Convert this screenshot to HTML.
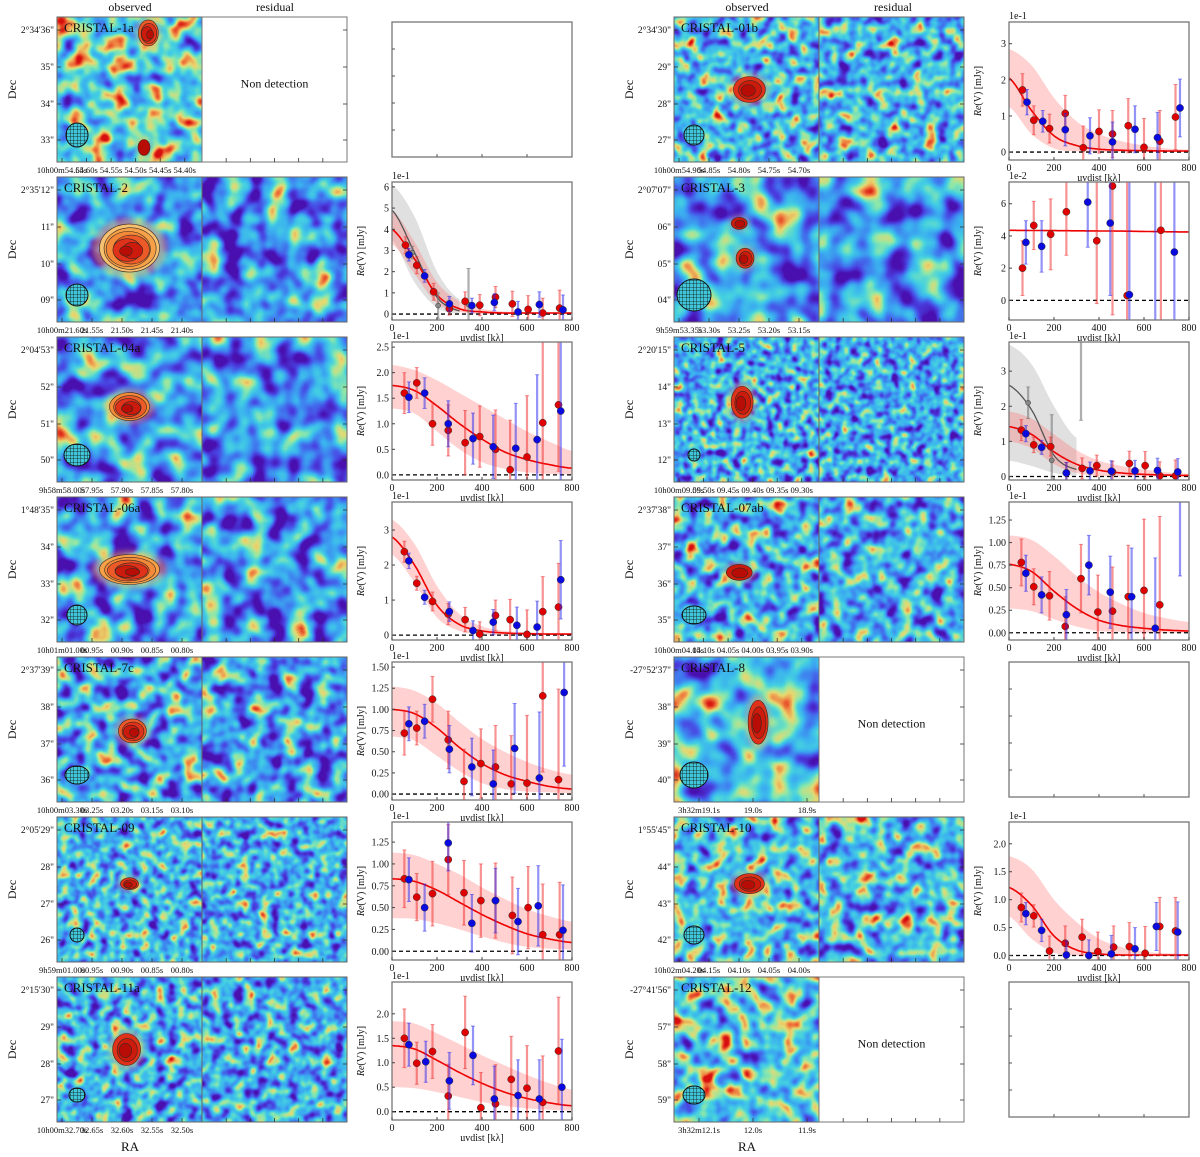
<!DOCTYPE html>
<html><head><meta charset="utf-8"><title>CRISTAL uv-fits</title>
<style>
html,body{margin:0;padding:0;background:#fff;}
#fig{position:relative;width:1200px;height:1157px;overflow:hidden;font-family:"Liberation Serif",serif;}
svg text{font-family:"Liberation Serif",serif;}
</style></head>
<body>
<div id="fig">
<svg id="mainsvg" width="1200" height="1157" viewBox="0 0 1200 1157" xmlns="http://www.w3.org/2000/svg">
<defs id="mydefs">
<pattern id="hatch" width="3.5" height="3.5" patternUnits="userSpaceOnUse">
<rect width="3.5" height="3.5" fill="#3fc6d8"/>
<path d="M0 0H3.5M0 0V3.5" stroke="#111" stroke-width="0.8"/>
</pattern>
<filter id="blur2" x="-50%" y="-50%" width="200%" height="200%"><feGaussianBlur stdDeviation="3"/></filter>
</defs>
</svg>
</div>
<script>
// ---------------- chart data (values in units shown on axes) ----------------
var c01b_redU=[60,110,180,250,330,400,460,530,600,670,740];
var c01b_redV=[1.72,0.88,0.65,1.07,0.12,0.57,0.5,0.73,0.13,0.3,0.97];
var c01b_redE=[0.45,0.4,0.4,0.5,0.6,0.6,0.65,0.75,0.8,0.85,0.9];
var c01b_blueU=[80,150,250,360,460,560,660,760];
var c01b_blueV=[1.38,0.85,0.62,0.45,0.28,0.63,0.4,1.22];
var c01b_blueE=[0.35,0.3,0.45,0.5,0.55,0.65,0.7,0.8];
var c01b_model=[2.05,1.15,0.45,0.18,0.08,0.05,0.04,0.03,0.03];
var c01b_hi=[2.85,2.4,1.5,0.85,0.5,0.3,0.18,0.1,0.07];
var c01b_lo=[1.25,0.5,0.1,0.02,0,0,0,0,0];
var c01b_ticks=[0,1,2,3];
var c01b_tickLabels=["0","1","2","3"];
var c2_redU=[60,110,185,255,325,390,460,535,605,670,745];
var c2_redV=[3.25,2.3,1.05,0.25,0.6,0.42,0.8,0.48,0.22,0.05,0.28];
var c2_redE=[0.4,0.4,0.4,0.3,0.45,0.5,0.5,0.6,0.65,0.7,0.85];
var c2_blueU=[75,145,255,355,455,560,655,760];
var c2_blueV=[2.8,1.8,0.48,0.4,0.55,0.1,0.45,0.2];
var c2_blueE=[0.3,0.3,0.35,0.35,0.4,0.5,0.6,0.7];
var c2_greyU=[90,205,340];
var c2_greyV=[2.9,0.4,0.45];
var c2_greyE=[0.3,0.6,1.7];
var c2_model=[4.0,2.6,0.9,0.25,0.1,0.05,0.05,0.05,0.05];
var c2_hi=[4.9,3.4,1.5,0.6,0.25,0.12,0.1,0.08,0.08];
var c2_lo=[3.3,1.9,0.5,0.1,0,0,0,0,0];
var c2_greyModel=[4.9,2.9,0.8,0.15];
var c2_greyHi=[6.1,4.6,2.0,0.7];
var c2_greyLo=[3.5,1.5,0.3,0.0];
var c2_ticks=[0,1,2,3,4,5,6];
var c2_tickLabels=["0","1","2","3","4","5","6"];
var c3_redU=[60,110,185,255,390,460,525,675];
var c3_redV=[2.0,4.65,4.1,5.5,3.7,7.1,0.3,4.35];
var c3_redE=[1.7,1.5,2.2,2.7,3.9,8,8,8];
var c3_blueU=[75,145,350,450,535,650,735];
var c3_blueV=[3.6,3.35,6.1,4.8,0.35,9,3];
var c3_blueE=[1.35,1.6,2.8,4.5,8,12,10];
var c3_model=[4.35,4.34,4.33,4.32,4.31,4.3,4.28,4.26,4.25];
var c3_ticks=[0,2,4,6];
var c3_tickLabels=["0","2","4","6"];
var c04a_redU=[55,110,180,250,325,390,460,525,600,670,740];
var c04a_redV=[1.6,1.8,1.0,0.87,0.63,0.75,0.5,0.1,0.35,1.02,1.37];
var c04a_redE=[0.4,0.3,0.42,0.5,0.63,0.6,0.77,0.97,1.2,1.6,1.3];
var c04a_blueU=[75,145,250,360,450,550,645,750];
var c04a_blueV=[1.52,1.6,1.0,0.71,0.55,0.52,0.69,1.25];
var c04a_blueE=[0.3,0.3,0.45,0.5,0.62,0.88,1.27,1.4];
var c04a_model=[1.75,1.65,1.35,1.0,0.7,0.45,0.3,0.2,0.13];
var c04a_hi=[2.15,2.05,1.85,1.6,1.35,1.1,0.85,0.65,0.47];
var c04a_lo=[1.3,1.2,0.85,0.5,0.25,0.12,0.05,0.02,0.01];
var c04a_ticks=[0,0.5,1,1.5,2,2.5];
var c04a_tickLabels=["0.0","0.5","1.0","1.5","2.0","2.5"];
var c5_redU=[55,110,185,255,325,390,460,535,605,670,740];
var c5_redV=[1.32,0.9,0.85,0.1,0.23,0.31,0.13,0.37,0.31,0.02,0.02];
var c5_redE=[0.3,0.22,0.27,0.3,0.3,0.3,0.3,0.35,0.4,0.4,0.45];
var c5_blueU=[75,145,255,360,455,560,660,750];
var c5_blueV=[1.22,0.83,0.1,0.16,0.15,0.16,0.17,0.13];
var c5_blueE=[0.23,0.2,0.3,0.25,0.3,0.3,0.35,0.38];
var c5_greyU=[85,190,320];
var c5_greyV=[2.1,0.46,5.5];
var c5_greyE=[0.45,1.3,3.9];
var c5_model=[1.42,1.2,0.7,0.35,0.18,0.1,0.06,0.04,0.03];
var c5_hi=[1.85,1.65,1.2,0.75,0.45,0.3,0.2,0.12,0.08];
var c5_lo=[1.0,0.8,0.35,0.1,0.02,0,0,0,0];
var c5_greyModel=[2.6,1.9,0.6,0.2];
var c5_greyHi=[3.75,3.2,2.0,1.1];
var c5_greyLo=[0.45,0.3,0.1,0.02];
var c5_ticks=[0,1,2,3];
var c5_tickLabels=["0","1","2","3"];
var c06a_redU=[55,110,180,250,325,390,460,525,600,670,740];
var c06a_redV=[2.38,1.48,0.96,0.6,0.44,0.03,0.56,0.44,0.02,0.67,0.8];
var c06a_redE=[0.3,0.2,0.27,0.3,0.35,0.35,0.44,0.58,0.7,1.0,1.25];
var c06a_blueU=[75,145,255,360,450,555,645,750];
var c06a_blueV=[2.12,1.08,0.67,0.13,0.37,0.28,0.23,1.58];
var c06a_blueE=[0.22,0.2,0.28,0.28,0.36,0.52,0.74,1.12];
var c06a_model=[2.8,2.0,0.85,0.3,0.12,0.06,0.04,0.03,0.03];
var c06a_hi=[3.3,2.6,1.4,0.6,0.25,0.12,0.08,0.06,0.05];
var c06a_lo=[2.3,1.5,0.5,0.12,0.03,0,0,0,0];
var c06a_ticks=[0,1,2,3];
var c06a_tickLabels=["0","1","2","3"];
var c07ab_redU=[55,110,180,250,320,395,460,530,600,670];
var c07ab_redV=[0.78,0.51,0.41,0.07,0.6,0.23,0.24,0.4,0.47,0.31];
var c07ab_redE=[0.26,0.2,0.27,0.33,0.38,0.41,0.49,0.57,0.79,0.98];
var c07ab_blueU=[75,145,255,355,450,545,650,760];
var c07ab_blueV=[0.66,0.42,0.2,0.75,0.45,0.4,0.05,1.5];
var c07ab_blueE=[0.2,0.2,0.28,0.33,0.4,0.54,0.78,0.87];
var c07ab_model=[0.76,0.68,0.46,0.27,0.14,0.08,0.05,0.03,0.02];
var c07ab_hi=[1.08,1.03,0.85,0.63,0.45,0.32,0.22,0.16,0.12];
var c07ab_lo=[0.27,0.24,0.15,0.07,0.02,0.01,0,0,0];
var c07ab_ticks=[0,0.25,0.5,0.75,1,1.25];
var c07ab_tickLabels=["0.00","0.25","0.50","0.75","1.00","1.25"];
var c7c_redU=[55,110,180,250,320,395,460,530,600,670,740];
var c7c_redV=[0.72,0.78,1.12,0.64,0.15,0.36,0.32,0.12,0.13,1.16,0.17];
var c7c_redE=[0.26,0.2,0.27,0.34,0.38,0.41,0.49,0.57,0.8,0.9,1.07];
var c7c_blueU=[75,145,255,355,450,545,655,765];
var c7c_blueV=[0.83,0.86,0.53,0.32,0.12,0.54,0.19,1.2];
var c7c_blueE=[0.2,0.2,0.28,0.34,0.4,0.53,0.78,0.87];
var c7c_model=[1.0,0.95,0.78,0.55,0.36,0.23,0.15,0.09,0.06];
var c7c_hi=[1.27,1.22,1.07,0.85,0.65,0.5,0.38,0.29,0.23];
var c7c_lo=[0.68,0.63,0.45,0.27,0.13,0.06,0.03,0.02,0.01];
var c7c_ticks=[0,0.25,0.5,0.75,1,1.25,1.5];
var c7c_tickLabels=["0.00","0.25","0.50","0.75","1.00","1.25","1.50"];
var c09_redU=[55,110,180,250,320,395,460,535,605,670,745];
var c09_redV=[0.83,0.62,0.66,1.05,0.67,0.58,0.58,0.41,0.5,0.19,0.19];
var c09_redE=[0.33,0.27,0.37,0.4,0.37,0.42,0.43,0.44,0.47,0.58,0.6];
var c09_blueU=[75,145,250,355,460,560,650,760];
var c09_blueV=[0.82,0.5,1.24,0.32,0.58,0.34,0.52,0.24];
var c09_blueE=[0.25,0.27,0.32,0.33,0.37,0.38,0.46,0.52];
var c09_model=[0.83,0.8,0.7,0.56,0.42,0.3,0.2,0.14,0.1];
var c09_hi=[1.13,1.1,1.0,0.88,0.73,0.6,0.48,0.4,0.34];
var c09_lo=[0.38,0.37,0.32,0.25,0.17,0.1,0.05,0.03,0.02];
var c09_ticks=[0,0.25,0.5,0.75,1,1.25];
var c09_tickLabels=["0.00","0.25","0.50","0.75","1.00","1.25"];
var c10_redU=[55,110,180,250,325,395,465,535,605,670,740];
var c10_redV=[0.86,0.71,0.08,0.22,0.33,0.07,0.15,0.16,0.04,0.52,0.44];
var c10_redE=[0.26,0.2,0.27,0.31,0.32,0.35,0.38,0.43,0.48,0.52,0.6];
var c10_blueU=[75,145,255,355,455,560,655,750];
var c10_blueV=[0.75,0.45,0.01,0.0,0.03,0.12,0.52,0.42];
var c10_blueE=[0.2,0.2,0.25,0.28,0.33,0.38,0.43,0.54];
var c10_model=[1.22,0.9,0.35,0.1,0.03,0.01,0.01,0.01,0.01];
var c10_hi=[1.78,1.55,1.0,0.6,0.3,0.15,0.07,0.04,0.03];
var c10_lo=[0.7,0.3,0.05,0,0,0,0,0,0];
var c10_ticks=[0,0.5,1,1.5,2];
var c10_tickLabels=["0.0","0.5","1.0","1.5","2.0"];
var c11a_redU=[55,110,180,250,325,395,460,530,600,670,740];
var c11a_redV=[1.5,0.99,1.23,0.32,1.62,0.08,0.16,0.66,0.48,0.19,1.24];
var c11a_redE=[0.6,0.43,0.55,0.65,0.74,0.72,0.8,0.88,0.87,0.95,1.1];
var c11a_blueU=[75,150,255,360,455,560,655,755];
var c11a_blueV=[1.37,1.02,0.63,1.15,0.26,0.33,0.26,0.5];
var c11a_blueE=[0.44,0.42,0.58,0.6,0.67,0.73,0.8,0.98];
var c11a_model=[1.35,1.28,1.05,0.8,0.58,0.4,0.27,0.18,0.12];
var c11a_hi=[1.85,1.8,1.6,1.38,1.15,0.95,0.75,0.58,0.45];
var c11a_lo=[0.5,0.48,0.4,0.3,0.2,0.12,0.07,0.04,0.02];
var c11a_ticks=[0,0.5,1,1.5,2];
var c11a_tickLabels=["0.0","0.5","1.0","1.5","2.0"];
var xTicks=[0,200,400,600,800];
var xTickLabels=["0","200","400","600","800"];

// ---------------- layout ----------------
var svgRoot=document.getElementById('mainsvg');
var SVGNS='http://www.w3.org/2000/svg';
var defsEl=document.getElementById('mydefs');
function mk(tag,attrs,parent){var e=document.createElementNS(SVGNS,tag);for(var k in attrs){e.setAttribute(k,String(attrs[k]));}(parent||svgRoot).appendChild(e);return e;}
function txt(str,x,y,size,parent,anchor,extra){var a={x:x,y:y,'font-size':size,'text-anchor':anchor||'start',fill:'#111'};if(extra){for(var k in extra)a[k]=extra[k];}var te=mk('text',a,parent);te.textContent=str;return te;}
var rowTop=[17,177,337,497,657,817,977];
var PH=145;

var ttl;
ttl=txt('observed',130,11,12,svgRoot,'middle');


ttl=txt('residual',275,11,12,svgRoot,'middle');


ttl=txt('observed',747,11,12,svgRoot,'middle');


ttl=txt('residual',893,11,12,svgRoot,'middle');


ttl=txt('RA',130,1151,13,svgRoot,'middle');


ttl=txt('RA',747,1151,13,svgRoot,'middle');



var tabR="0.29 0.29 0.25 0.23 0.27 0.56 0.91 0.94 0.85";
var tabG="0.06 0.25 0.49 0.69 0.82 0.91 0.85 0.5 0.06";
var tabB="0.69 0.88 0.94 0.94 0.88 0.66 0.44 0.25 0.06";
var fid=0;
function noiseFilter(x,y,w,h,freq,seed,shift,contrast){
  var id='nf'+(fid++);
  var f=mk('filter',{id:id,filterUnits:'userSpaceOnUse',x:x,y:y,width:w,height:h,'color-interpolation-filters':'sRGB'},defsEl);
  mk('feTurbulence',{type:'fractalNoise',baseFrequency:freq,numOctaves:2,seed:seed,result:'n'},f);
  mk('feGaussianBlur',{stdDeviation:1.2},f);
  var a=contrast, b=(0.42+shift)-0.5*contrast;
  mk('feColorMatrix',{type:'matrix',values:a+' 0 0 0 '+b+' '+a+' 0 0 0 '+b+' '+a+' 0 0 0 '+b+' 0 0 0 0 1'},f);
  var ct=mk('feComponentTransfer',{},f);
  mk('feFuncR',{type:'table',tableValues:tabR},ct);
  mk('feFuncG',{type:'table',tableValues:tabG},ct);
  mk('feFuncB',{type:'table',tableValues:tabB},ct);
  return id;
}
var srcFill=['#f5c070','#f6a048','#f28a3a','#ec5a28','#e0321a','#cc1a0c','#b80c06'];

var imgPanels=[
 {col:0,row:0,label:'CRISTAL-1a',dec:["2°34'36\"","35\"","34\"","33\""],ra:["10h00m54.65s","54.60s","54.55s","54.50s","54.45s","54.40s"],seed:3,freq:0.055,shift:0.12,src:[[0.63,0.11,10,13,4]],extra:[[0.6,0.9,6,8,1]],beam:[11,12],nondet:true},
 {col:0,row:1,label:'CRISTAL-2',dec:["2°35'12\"","11\"","10\"","09\""],ra:["10h00m21.60s","21.55s","21.50s","21.45s","21.40s"],seed:7,freq:0.045,shift:-0.08,src:[[0.5,0.49,30,24,7]],beam:[11,11]},
 {col:0,row:2,label:'CRISTAL-04a',dec:["2°04'53\"","52\"","51\"","50\""],ra:["9h58m58.00s","57.95s","57.90s","57.85s","57.80s"],seed:11,freq:0.04,shift:-0.07,src:[[0.5,0.48,20,14,5]],beam:[13,11]},
 {col:0,row:3,label:'CRISTAL-06a',dec:["1°48'35\"","34\"","33\"","32\""],ra:["10h01m01.00s","00.95s","00.90s","00.85s","00.80s"],seed:17,freq:0.045,shift:-0.06,src:[[0.5,0.5,30,15,6]],beam:[10,10]},
 {col:0,row:4,label:'CRISTAL-7c',dec:["2°37'39\"","38\"","37\"","36\""],ra:["10h00m03.30s","03.25s","03.20s","03.15s","03.10s"],seed:23,freq:0.06,shift:-0.05,src:[[0.52,0.51,14,12,4]],beam:[12,9]},
 {col:0,row:5,label:'CRISTAL-09',dec:["2°05'29\"","28\"","27\"","26\""],ra:["9h59m01.00s","00.95s","00.90s","00.85s","00.80s"],seed:29,freq:0.1,shift:0.0,src:[[0.5,0.46,9,6,3]],beam:[7,7]},
 {col:0,row:6,label:'CRISTAL-11a',dec:["2°15'30\"","29\"","28\"","27\""],ra:["10h00m32.70s","32.65s","32.60s","32.55s","32.50s"],seed:31,freq:0.09,shift:-0.01,src:[[0.48,0.5,14,16,3]],beam:[8,7]},
 {col:1,row:0,label:'CRISTAL-01b',dec:["2°34'30\"","29\"","28\"","27\""],ra:["10h00m54.90s","54.85s","54.80s","54.75s","54.70s"],seed:37,freq:0.08,shift:0.02,src:[[0.52,0.5,16,13,3]],beam:[10,10]},
 {col:1,row:1,label:'CRISTAL-3',dec:["2°07'07\"","06\"","05\"","04\""],ra:["9h59m53.35s","53.30s","53.25s","53.20s","53.15s"],seed:41,freq:0.035,shift:-0.05,src:[[0.45,0.32,8,6,2],[0.49,0.56,9,10,3]],beam:[17,16]},
 {col:1,row:2,label:'CRISTAL-5',dec:["2°20'15\"","14\"","13\"","12\""],ra:["10h00m09.55s","09.50s","09.45s","09.40s","09.35s","09.30s"],seed:43,freq:0.12,shift:-0.03,src:[[0.47,0.45,11,16,3]],beam:[6,6]},
 {col:1,row:3,label:'CRISTAL-07ab',dec:["2°37'38\"","37\"","36\"","35\""],ra:["10h00m04.15s","04.10s","04.05s","04.00s","03.95s","03.90s"],seed:47,freq:0.07,shift:-0.01,src:[[0.45,0.52,13,8,2]],beam:[12,9]},
 {col:1,row:4,label:'CRISTAL-8',dec:["-27°52'37\"","38\"","39\"","40\""],ra:["3h32m19.1s","19.0s","18.9s"],seed:53,freq:0.035,shift:0.06,src:[[0.58,0.45,10,22,3]],beam:[14,13],nondet:true},
 {col:1,row:5,label:'CRISTAL-10',dec:["1°55'45\"","44\"","43\"","42\""],ra:["10h02m04.20s","04.15s","04.10s","04.05s","04.00s"],seed:59,freq:0.07,shift:0.04,src:[[0.52,0.46,15,10,3]],beam:[10,9]},
 {col:1,row:6,label:'CRISTAL-12',dec:["-27°41'56\"","57\"","58\"","59\""],ra:["3h32m12.1s","12.0s","11.9s"],seed:61,freq:0.06,shift:0.08,src:[],beam:[11,9],nondet:true}
];
var obsX=[57,674];

function imagePanel(P){
  var x=obsX[P.col], y=rowTop[P.row];
  var g=mk('g',{});
  
  
  var cid='cp'+(fid++);
  var cp=mk('clipPath',{id:cid},defsEl); mk('rect',{x:x,y:y,width:PH,height:PH},cp);
  var inner=mk('g',{'clip-path':'url(#'+cid+')'},g);
  mk('rect',{x:x,y:y,width:PH,height:PH,fill:'#45c4e4'},inner);
  var nf=noiseFilter(x,y,PH,PH,P.freq,P.seed,P.shift,1.7);
  mk('rect',{x:x,y:y,width:PH,height:PH,filter:'url(#'+nf+')'},inner);
  var all=(P.src||[]).concat(P.extra||[]);
  all.forEach(function(s){
    var cx=x+s[0]*PH, cy=y+s[1]*PH;
    mk('ellipse',{cx:cx,cy:cy,rx:s[2]*1.25,ry:s[3]*1.25,fill:'#f4b060',opacity:0.5,filter:'url(#blur2)'},inner);
    for(var i=0;i<s[4];i++){
      var k=1-i/(s[4]+0.6);
      mk('ellipse',{cx:cx+(i%2?1:-1)*i*0.6,cy:cy+i*0.5,rx:s[2]*k,ry:s[3]*k,fill:srcFill[Math.min(i+(7-s[4]),6)],stroke:'#3a2a20','stroke-width':0.6},inner);
    }
  });
  var bm=mk('ellipse',{cx:x+20,cy:y+PH-27,rx:P.beam[0],ry:P.beam[1],fill:'url(#hatch)',stroke:'#111','stroke-width':1},inner);
  
  
  mk('rect',{x:x,y:y,width:PH,height:PH,fill:'none',stroke:'#666','stroke-width':1},g);
  var lb=txt(P.label,x+7,y+15,13,g);
  
  
  var dOff=[13,50,87,123];
  P.dec.forEach(function(d,i){var tt=txt(d,x-3,y+dOff[i]+3,9.5,g,'end');
    
    
    mk('line',{x1:x,y1:y+dOff[i],x2:x+4,y2:y+dOff[i],stroke:'#333','stroke-width':0.8},g);});
  var step=(PH-10)/(P.ra.length-0.5);
  P.ra.forEach(function(r,i){var rxp=x+5+i*step+(P.ra.length<=3?20:0);
    var tt=txt(r,rxp,y+PH+11,8.5,g,'middle');
    
    
    mk('line',{x1:rxp,y1:y+PH,x2:rxp,y2:y+PH-4,stroke:'#333','stroke-width':0.8},g);});
  var dl=txt('Dec',x-45,y+PH/2+4,12,g,'middle',{transform:'rotate(-90 '+(x-45)+' '+(y+PH/2)+')'});
  
  

  var rx0=x+PH;
  var rg=mk('g',{});
  
  
  if(P.nondet){
    mk('rect',{x:rx0,y:y,width:PH,height:PH,fill:'#fff',stroke:'#777','stroke-width':1},rg);
    var nd=txt('Non detection',rx0+PH/2,y+PH/2-2,12,rg,'middle');
    
    
  } else {
    var cid2='cp'+(fid++);
    var cp2=mk('clipPath',{id:cid2},defsEl); mk('rect',{x:rx0,y:y,width:PH,height:PH},cp2);
    mk('rect',{x:rx0,y:y,width:PH,height:PH,fill:'#45c4e4'},rg);
    var nf2=noiseFilter(rx0,y,PH,PH,P.freq,P.seed+100,P.shift-0.02,1.7);
    mk('rect',{x:rx0,y:y,width:PH,height:PH,filter:'url(#'+nf2+')','clip-path':'url(#'+cid2+')'},rg);
    mk('rect',{x:rx0,y:y,width:PH,height:PH,fill:'none',stroke:'#666','stroke-width':1},rg);
  }
  for(var i=1;i<6;i++){mk('line',{x1:rx0+i*PH/6,y1:y+PH,x2:rx0+i*PH/6,y2:y+PH-4,stroke:'#333','stroke-width':0.8},rg);}
  dOff.forEach(function(o){mk('line',{x1:rx0+PH,y1:y+o,x2:rx0+PH-4,y2:y+o,stroke:'#333','stroke-width':0.8},rg);});
}
imgPanels.forEach(function(P){try{imagePanel(P);}catch(e){console.log(e);}});

// ---------------- plots ----------------
function interp(arr,u){
  var p=u/100; var i=Math.floor(p); if(i>=arr.length-1){return arr[arr.length-1];}
  var f=p-i; var p0=arr[Math.max(i-1,0)],p1=arr[i],p2=arr[i+1],p3=arr[Math.min(i+2,arr.length-1)];
  return 0.5*((2*p1)+(-p0+p2)*f+(2*p0-5*p1+4*p2-p3)*f*f+(-p0+3*p1-3*p2+p3)*f*f*f);
}
var plotX=[[392,572],[1009,1189]];
var plots=[
 {name:'cristal-01b',col:1,row:0,ymin:-0.22,ymax:3.6,mult:'1e-1',ticks:c01b_ticks,tl:c01b_tickLabels,ru:c01b_redU,rv:c01b_redV,re:c01b_redE,bu:c01b_blueU,bv:c01b_blueV,be:c01b_blueE,m:c01b_model,hi:c01b_hi,lo:c01b_lo},
 {name:'cristal-2',col:0,row:1,ymin:-0.28,ymax:6.23,mult:'1e-1',ticks:c2_ticks,tl:c2_tickLabels,ru:c2_redU,rv:c2_redV,re:c2_redE,bu:c2_blueU,bv:c2_blueV,be:c2_blueE,m:c2_model,hi:c2_hi,lo:c2_lo,gu:c2_greyU,gv:c2_greyV,ge:c2_greyE,gm:c2_greyModel,ghi:c2_greyHi,glo:c2_greyLo},
 {name:'cristal-3',col:1,row:1,ymin:-1.22,ymax:7.35,mult:'1e-2',ticks:c3_ticks,tl:c3_tickLabels,ru:c3_redU,rv:c3_redV,re:c3_redE,bu:c3_blueU,bv:c3_blueV,be:c3_blueE,m:c3_model},
 {name:'cristal-04a',col:0,row:2,ymin:-0.1,ymax:2.6,mult:'1e-1',ticks:c04a_ticks,tl:c04a_tickLabels,ru:c04a_redU,rv:c04a_redV,re:c04a_redE,bu:c04a_blueU,bv:c04a_blueV,be:c04a_blueE,m:c04a_model,hi:c04a_hi,lo:c04a_lo},
 {name:'cristal-5',col:1,row:2,ymin:-0.1,ymax:3.83,mult:'1e-1',ticks:c5_ticks,tl:c5_tickLabels,ru:c5_redU,rv:c5_redV,re:c5_redE,bu:c5_blueU,bv:c5_blueV,be:c5_blueE,m:c5_model,hi:c5_hi,lo:c5_lo,gu:c5_greyU,gv:c5_greyV,ge:c5_greyE,gm:c5_greyModel,ghi:c5_greyHi,glo:c5_greyLo},
 {name:'cristal-06a',col:0,row:3,ymin:-0.14,ymax:3.8,mult:'1e-1',ticks:c06a_ticks,tl:c06a_tickLabels,ru:c06a_redU,rv:c06a_redV,re:c06a_redE,bu:c06a_blueU,bv:c06a_blueV,be:c06a_blueE,m:c06a_model,hi:c06a_hi,lo:c06a_lo},
 {name:'cristal-07ab',col:1,row:3,ymin:-0.08,ymax:1.45,mult:'1e-1',ticks:c07ab_ticks,tl:c07ab_tickLabels,ru:c07ab_redU,rv:c07ab_redV,re:c07ab_redE,bu:c07ab_blueU,bv:c07ab_blueV,be:c07ab_blueE,m:c07ab_model,hi:c07ab_hi,lo:c07ab_lo},
 {name:'cristal-7c',col:0,row:4,ymin:-0.07,ymax:1.56,mult:'1e-1',ticks:c7c_ticks,tl:c7c_tickLabels,ru:c7c_redU,rv:c7c_redV,re:c7c_redE,bu:c7c_blueU,bv:c7c_blueV,be:c7c_blueE,m:c7c_model,hi:c7c_hi,lo:c7c_lo},
 {name:'cristal-09',col:0,row:5,ymin:-0.1,ymax:1.48,mult:'1e-1',ticks:c09_ticks,tl:c09_tickLabels,ru:c09_redU,rv:c09_redV,re:c09_redE,bu:c09_blueU,bv:c09_blueV,be:c09_blueE,m:c09_model,hi:c09_hi,lo:c09_lo},
 {name:'cristal-10',col:1,row:5,ymin:-0.08,ymax:2.39,mult:'1e-1',ticks:c10_ticks,tl:c10_tickLabels,ru:c10_redU,rv:c10_redV,re:c10_redE,bu:c10_blueU,bv:c10_blueV,be:c10_blueE,m:c10_model,hi:c10_hi,lo:c10_lo},
 {name:'cristal-11a',col:0,row:6,ymin:-0.17,ymax:2.65,mult:'1e-1',ticks:c11a_ticks,tl:c11a_tickLabels,ru:c11a_redU,rv:c11a_redV,re:c11a_redE,bu:c11a_blueU,bv:c11a_blueV,be:c11a_blueE,m:c11a_model,hi:c11a_hi,lo:c11a_lo}
];
function curvePts(arr,sx,sy){var pts=[];var umax=(arr.length-1)*100;for(var u=0;u<=umax;u+=5){pts.push([sx(u),sy(interp(arr,u))]);}return pts;}
function ptsStr(p){return p.map(function(q){return q[0].toFixed(1)+','+q[1].toFixed(1);}).join(' ');}
function emptyPlot(name,col,row){
  var x0=plotX[col][0],x1=plotX[col][1],yt=rowTop[row]+5,yb=rowTop[row]+140;
  var g=mk('g',{});
  
  
  mk('rect',{x:x0,y:yt,width:x1-x0,height:yb-yt,fill:'#fff',stroke:'#777','stroke-width':1.3},g);
  for(var i=1;i<4;i++){var xx=x0+i*(x1-x0)/4;mk('line',{x1:xx,y1:yb,x2:xx,y2:yb-3,stroke:'#555'},g);}
  for(var j=1;j<5;j++){var yy=yt+j*(yb-yt)/5;mk('line',{x1:x0,y1:yy,x2:x0+3,y2:yy,stroke:'#555'},g);}
}
function drawPlot(P){
  var x0=plotX[P.col][0],x1=plotX[P.col][1],yt=rowTop[P.row]+5,yb=rowTop[P.row]+143;
  var sx=function(u){return x0+u/800*(x1-x0);};
  var sy=function(v){return yb-(v-P.ymin)/(P.ymax-P.ymin)*(yb-yt);};
  var g=mk('g',{});
  
  
  var cid='pc'+(fid++);
  var cp=mk('clipPath',{id:cid},defsEl); mk('rect',{x:x0,y:yt,width:x1-x0,height:yb-yt},cp);
  var c=mk('g',{'clip-path':'url(#'+cid+')'},g);
  var hi,lo,band;
  if(P.ghi){
    hi=curvePts(P.ghi,sx,sy);lo=curvePts(P.glo,sx,sy).reverse();
    band=mk('polygon',{points:ptsStr(hi.concat(lo)),fill:'#999',opacity:0.3},c);
    
    
  }
  if(P.hi){
    hi=curvePts(P.hi,sx,sy);lo=curvePts(P.lo,sx,sy).reverse();
    band=mk('polygon',{points:ptsStr(hi.concat(lo)),fill:'#f66',opacity:0.3},c);
    
    
  }
  var zl=mk('line',{x1:x0,y1:sy(0),x2:x1,y2:sy(0),stroke:'#000','stroke-width':1.3,'stroke-dasharray':'4,3'},c);
  
  
  if(P.gm){
    var gl=mk('polyline',{points:ptsStr(curvePts(P.gm,sx,sy)),fill:'none',stroke:'#555','stroke-width':1.3},c);
    
    
  }
  var ml=mk('polyline',{points:ptsStr(curvePts(P.m,sx,sy)),fill:'none',stroke:'#e00','stroke-width':1.6},c);
  
  
  function series(us,vs,es,ecol,fcol,r,nm){
    us.forEach(function(u,i){
      var e=mk('line',{x1:sx(u),y1:sy(vs[i]-es[i]),x2:sx(u),y2:sy(vs[i]+es[i]),stroke:ecol,'stroke-width':2.2},c);
      
      
      mk('line',{x1:sx(u)-2,y1:sy(vs[i]+es[i]),x2:sx(u)+2,y2:sy(vs[i]+es[i]),stroke:ecol,'stroke-width':1},c);
      mk('line',{x1:sx(u)-2,y1:sy(vs[i]-es[i]),x2:sx(u)+2,y2:sy(vs[i]-es[i]),stroke:ecol,'stroke-width':1},c);
    });
    us.forEach(function(u,i){
      var p=mk('circle',{cx:sx(u),cy:sy(vs[i]),r:r,fill:fcol,stroke:'#333','stroke-width':0.5},c);
      
      
    });
  }
  if(P.gu) series(P.gu,P.gv,P.ge,'rgba(120,120,120,0.6)','#888',2.5,'grey');
  series(P.ru,P.rv,P.re,'rgba(240,40,40,0.5)','#e00000',3.6,'red');
  series(P.bu,P.bv,P.be,'rgba(40,40,240,0.5)','#0a0ae0',3.6,'blue');
  mk('rect',{x:x0,y:yt,width:x1-x0,height:yb-yt,fill:'none',stroke:'#777','stroke-width':1.3},g);
  P.ticks.forEach(function(tv,i){
    var yy=sy(tv);
    mk('line',{x1:x0,y1:yy,x2:x0+3,y2:yy,stroke:'#444'},g);
    var tt=txt(P.tl[i],x0-3,yy+3.5,10,g,'end');
    
    
  });
  xTicks.forEach(function(xv,i){
    var xx=sx(xv);
    mk('line',{x1:xx,y1:yb,x2:xx,y2:yb-3,stroke:'#444'},g);
    var tt=txt(xTickLabels[i],xx,yb+11,10,g,'middle');
    
    
  });
  var mt=txt(P.mult,x0,yt-3,10,g,'start');
  
  
  var xl=txt('uvdist [kλ]',(x0+x1)/2,yb+21,10,g,'middle');
  
  
  var ax=x0-28, ay=(yt+yb)/2;
  var yl=mk('text',{x:ax,y:ay,'font-size':10,'text-anchor':'middle',fill:'#111',transform:'rotate(-90 '+ax+' '+ay+')'},g);
  
  
  var ts1=mk('tspan',{'font-style':'italic'},yl); ts1.textContent='Re';
  var ts2=mk('tspan',{},yl); ts2.textContent='(V) [mJy]';
}
try{emptyPlot('cristal-1a-empty-plot',0,0);}catch(e){}
try{emptyPlot('cristal-8-empty-plot',1,4);}catch(e){}
try{emptyPlot('cristal-12-empty-plot',1,6);}catch(e){}
plots.forEach(function(P){try{drawPlot(P);}catch(e){console.log(e);}});
</script>
</body></html>
